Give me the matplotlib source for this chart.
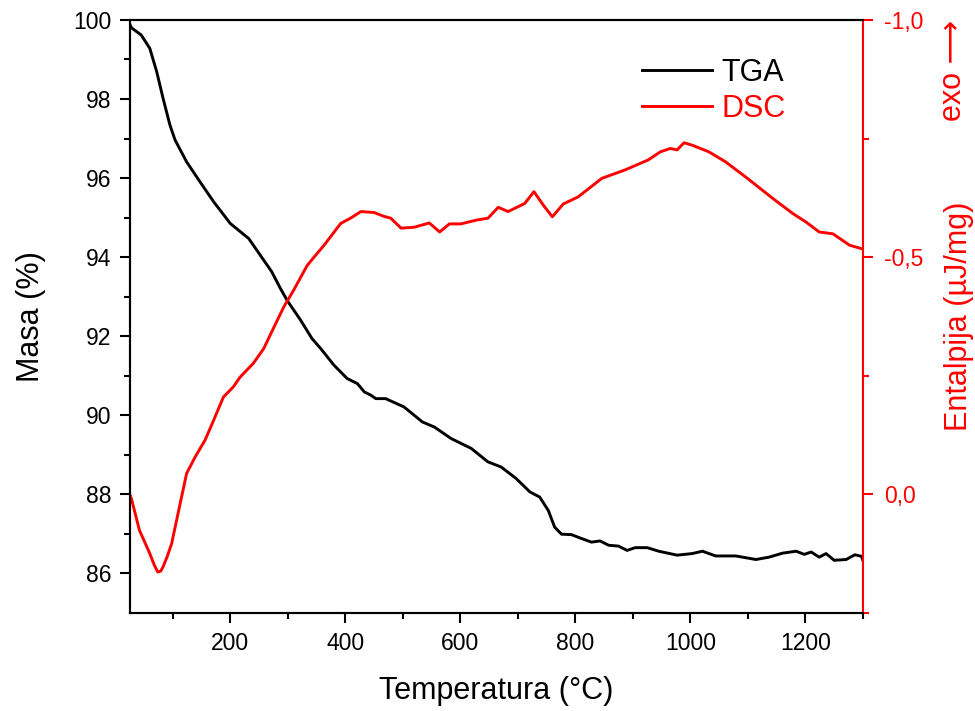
import numpy as np
import matplotlib.pyplot as plt
from matplotlib.ticker import MultipleLocator, FixedLocator, FuncFormatter

plt.rcParams['font.family'] = ['Liberation Sans', 'DejaVu Sans']

# TGA curve (temperature in C, mass in %)
tga_t = [25, 28, 45, 60, 72, 83, 95, 104, 124, 147, 171, 200, 232, 252, 272, 287,
         299, 322, 342, 357, 380, 403, 421, 433, 444, 453, 470, 502, 534, 555, 584,
         619, 648, 671, 697, 721, 738, 753, 764, 776, 793, 811, 828, 843, 858, 875,
         890, 904, 925, 945, 977, 1003, 1021, 1044, 1079, 1114, 1137, 1160, 1184,
         1198, 1210, 1224, 1236, 1250, 1271, 1286, 1298, 1300]
tga_m = [99.9, 99.8, 99.62, 99.28, 98.69, 98.02, 97.34, 96.96, 96.41, 95.91, 95.40,
         94.85, 94.47, 94.05, 93.63, 93.21, 92.9, 92.41, 91.94, 91.69, 91.27, 90.93,
         90.8, 90.59, 90.51, 90.42, 90.42, 90.21, 89.83, 89.70, 89.41, 89.16, 88.82,
         88.69, 88.40, 88.06, 87.93, 87.59, 87.17, 86.99, 86.98, 86.88, 86.79, 86.82,
         86.71, 86.69, 86.58, 86.65, 86.65, 86.56, 86.46, 86.50, 86.56, 86.44, 86.44,
         86.35, 86.41, 86.51, 86.56, 86.48, 86.54, 86.41, 86.50, 86.33, 86.35, 86.47,
         86.43, 86.33]

# DSC curve (temperature in C, enthalpy in uJ/mg)
dsc_t = [25, 28, 42, 52, 60, 68, 74, 79, 83, 90, 98, 109, 124, 139, 156, 171, 188,
         205, 217, 240, 258, 275, 293, 310, 334, 363, 392, 409, 427, 450, 467, 479,
         497, 520, 546, 564, 581, 601, 628, 648, 666, 683, 712, 728, 744, 760, 779,
         805, 846, 887, 927, 948, 965, 977, 989, 1003, 1032, 1061, 1096, 1143, 1178,
         1201, 1224, 1248, 1277, 1300]
dsc_h = [0.0, 0.009, 0.076, 0.103, 0.125, 0.150, 0.164, 0.162, 0.153, 0.132, 0.104,
         0.041, -0.044, -0.079, -0.114, -0.156, -0.205, -0.226, -0.247, -0.276,
         -0.307, -0.350, -0.395, -0.430, -0.483, -0.525, -0.571, -0.582, -0.596,
         -0.594, -0.586, -0.582, -0.561, -0.563, -0.572, -0.553, -0.570, -0.570,
         -0.578, -0.582, -0.605, -0.596, -0.613, -0.638, -0.610, -0.585, -0.612,
         -0.627, -0.666, -0.684, -0.705, -0.722, -0.729, -0.726, -0.741, -0.736,
         -0.722, -0.701, -0.669, -0.624, -0.592, -0.574, -0.553, -0.549, -0.525,
         -0.517]

fig = plt.figure(figsize=(9.75, 7.11), dpi=100)
ax = fig.add_axes([0.133, 0.138, 0.752, 0.834])
ax2 = ax.twinx()

l1, = ax.plot(tga_t, tga_m, color='black', lw=2.1, label='TGA')
l2, = ax2.plot(dsc_t, dsc_h, color='red', lw=2.1, label='DSC')

ax.set_xlim(25, 1300)
ax.set_ylim(85, 100)
ax2.set_ylim(0.25, -1.0)

ax.xaxis.set_major_locator(FixedLocator([200, 400, 600, 800, 1000, 1200]))
ax.xaxis.set_minor_locator(FixedLocator([100, 300, 500, 700, 900, 1100, 1300]))
ax.yaxis.set_major_locator(MultipleLocator(2))
ax.yaxis.set_minor_locator(FixedLocator([87, 89, 91, 93, 95, 97, 99]))
ax2.yaxis.set_major_locator(FixedLocator([-1.0, -0.5, 0.0]))
ax2.yaxis.set_minor_locator(FixedLocator([-0.75, -0.25, 0.25]))
ax2.yaxis.set_major_formatter(FuncFormatter(lambda v, p: f"{v:.1f}".replace('.', ',').replace('-0,0', '0,0')))

for a in (ax, ax2):
    a.tick_params(which='major', direction='out', length=7, width=1.5, labelsize=16.5, pad=6)
    a.tick_params(which='minor', direction='out', length=4, width=1.5)
    for s in a.spines.values():
        s.set_linewidth(1.5)

ax.tick_params(axis='x', pad=7)
ax2.tick_params(axis='y', pad=8)
ax.spines['right'].set_visible(False)
ax2.spines['right'].set_color('red')
ax2.tick_params(axis='y', which='both', colors='red')

ax.set_xlabel('Temperatura (°C)', fontsize=22, labelpad=15)
ax.set_ylabel('Masa (%)', fontsize=22, labelpad=20)
ax2.set_ylabel('Entalpija (µJ/mg)', fontsize=22, color='red', labelpad=15)
fig.text(0.977, 0.972, 'exo ⟶', rotation=90, color='red', fontsize=22,
         ha='center', va='top')

ax.legend(handles=[l1, l2], loc='upper left', bbox_to_anchor=(0.661, 0.982),
          frameon=False, fontsize=22, handlelength=2.3, handletextpad=0.3,
          labelspacing=0.2, labelcolor='linecolor')

fig.savefig('out.png', dpi=100)
